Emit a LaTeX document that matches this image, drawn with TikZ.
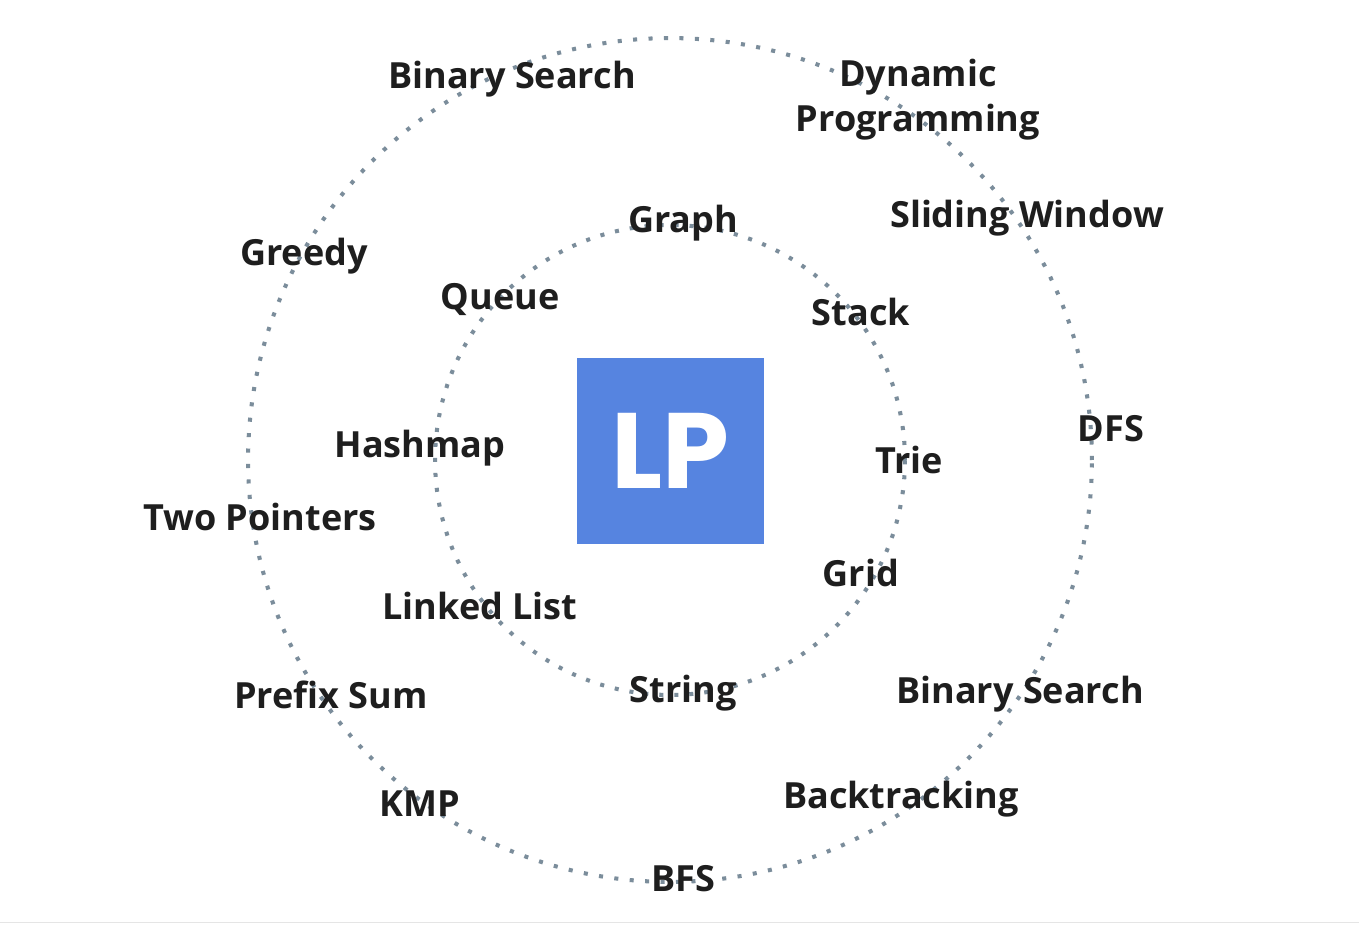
\documentclass[tikz,border=0pt]{standalone}
\usepackage{fontspec}
\setmainfont{Open Sans}
\newfontfamily\logofont{Poppins}
\usetikzlibrary{positioning}
\definecolor{ringGray}{RGB}{123,141,155}
\definecolor{lpBlue}{RGB}{86,132,224}
\definecolor{labelDark}{RGB}{30,30,30}
\definecolor{ruleGray}{RGB}{229,229,229}

\begin{document}
\begin{tikzpicture}[x=0.02cm,y=-0.02cm,
  topic/.style={anchor=base,inner sep=0pt,text=labelDark,
                font=\bfseries\fontsize{20.5}{25.5}\selectfont},
  ringout/.style={draw=ringGray,line width=2.3pt,dash pattern=on 2.3pt off 6.5pt},
  ringin/.style={draw=ringGray,line width=2.3pt,dash pattern=on 2.3pt off 6.25pt},
  logo/.style={rectangle,fill=lpBlue,minimum size=3.74cm,inner sep=0pt,text=white,
               font=\logofont\bfseries\fontsize{61}{64}\selectfont}
]
  \useasboundingbox[fill=white] (0,0) rectangle (1359,925);
  \draw[ruleGray,line width=1pt] (0,922.5) -- (1359,922.5);

  % rings
  \coordinate (hub) at (670,460);
  \draw[ringout] (hub) circle[radius=8.44cm];
  \draw[ringin]  (hub) circle[radius=4.7cm];

  \node[logo] (lp) at (670.5,451) {\raisebox{-1pt}{LP}};

  % inner ring
  \node[topic] (graph)   at (683,233)  {Graph};
  \node[topic] (queue)   at (500,310)  {Queue};
  \node[topic] (stack)   at (861,326)  {Stack};
  \node[topic] (hashmap) at (420,458)  {Hashmap};
  \node[topic] (trie)    at (909,474)  {Trie};
  \node[topic] (grid)    at (861,586)  {Grid};
  \node[topic] (linked)  at (480,619)  {Linked List};
  \node[topic] (string)  at (683,702)  {String};

  % outer ring
  \node[topic] (bsearch) at (512,89)   {Binary Search};
  \node[topic,align=center,anchor=center] (dp) at (918,100) {Dynamic\\Programming};
  \node[topic] (window)  at (1027,228) {Sliding Window};
  \node[topic] (greedy)  at (304,266)  {Greedy};
  \node[topic] (dfs)     at (1111,442) {DFS};
  \node[topic] (twoptr)  at (260,531)  {Two Pointers};
  \node[topic] (bsearch2)at (1020,703) {Binary Search};
  \node[topic] (prefix)  at (331,708)  {Prefix Sum};
  \node[topic] (kmp)     at (420,816)  {KMP};
  \node[topic] (backtr)  at (901,808)  {Backtracking};
  \node[topic] (bfs)     at (683,891)  {BFS};
\end{tikzpicture}
\end{document}
